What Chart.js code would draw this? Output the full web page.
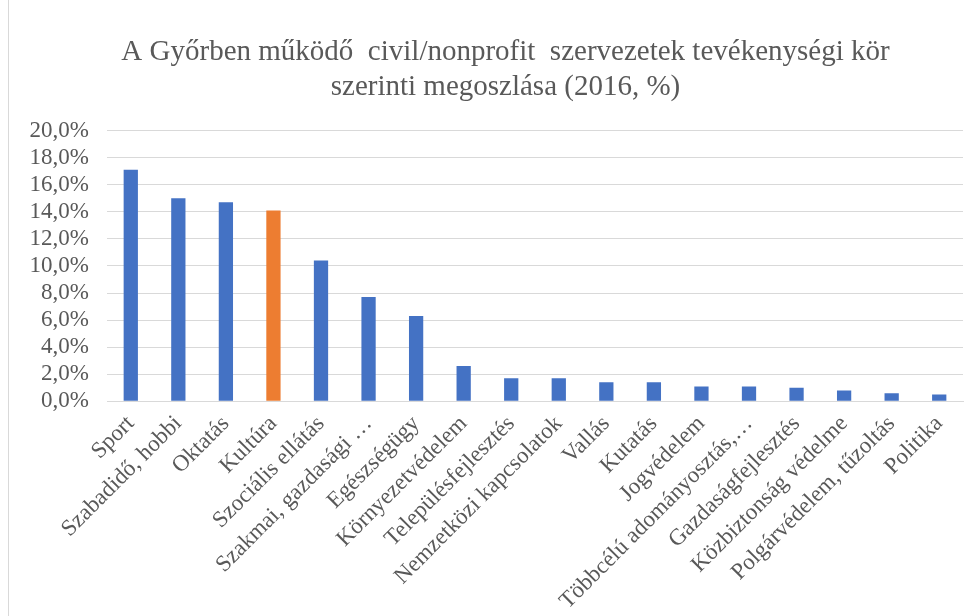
<!DOCTYPE html>
<html>
<head>
<meta charset="utf-8">
<script src="https://cdn.jsdelivr.net/npm/chart.js@4"></script>
<style>
  body { margin: 0; background: #fff; }
  #wrap { position: relative; width: 979px; height: 616px; }
  #edge { position: absolute; left: 8px; top: 0; width: 1px; height: 616px; background: #d9d9d9; }
</style>
</head>
<body>
<div id="wrap">
  <canvas id="myChart" width="979" height="616"></canvas>
  <div id="edge"></div>
</div>
<script>
const categories = [
  'Sport', 'Szabadidő, hobbi', 'Oktatás', 'Kultúra', 'Szociális ellátás',
  'Szakmai, gazdasági …', 'Egészségügy', 'Környezetvédelem', 'Településfejlesztés',
  'Nemzetközi kapcsolatok', 'Vallás', 'Kutatás', 'Jogvédelem',
  'Többcélú adományosztás,…', 'Gazdaságfejlesztés', 'Közbiztonság védelme',
  'Polgárvédelem, tűzoltás', 'Politika'
];
const shares = [17.1, 15.0, 14.7, 14.1, 10.4, 7.7, 6.3, 2.6, 1.7, 1.7, 1.4, 1.4, 1.1, 1.1, 1.0, 0.8, 0.6, 0.5];
const highlighted = 'Kultúra';
const titleLines = [
  'A Győrben működő  civil/nonprofit  szervezetek tevékenységi kör',
  'szerinti megoszlása (2016, %)'
];

const serif = "'Liberation Serif', 'DejaVu Serif', serif";
const grey = '#595959';

// the excel title sits a bit right of the canvas centre
const titleShift = {
  id: 'titleShift',
  afterLayout(chart) { chart.titleBlock.left += 48; }
};

const ctx = document.getElementById("myChart");
const myChart = new Chart(ctx, {
  type: 'bar',
  data: {
    labels: categories,
    datasets: [{
      data: shares,
      backgroundColor: categories.map(c => c === highlighted ? '#ED7D31' : '#4472C4'),
      barPercentage: 0.3,
      categoryPercentage: 1
    }]
  },
  options: {
    responsive: false,
    animation: false,
    layout: { padding: { left: 0, right: 16, top: 0, bottom: 0 } },
    plugins: {
      legend: { display: false },
      tooltip: { enabled: false },
      title: {
        display: true,
        text: titleLines,
        color: grey,
        font: { family: serif, size: 29, weight: 'normal', lineHeight: 1.2 },
        padding: { top: 35, bottom: 26 }
      }
    },
    scales: {
      y: {
        min: 0,
        max: 20,
        afterFit: s => { s.width = 107; },
        ticks: {
          stepSize: 2,
          autoSkip: false,
          color: grey,
          padding: 18,
          font: { family: serif, size: 23 },
          callback: v => v.toFixed(1).replace('.', ',') + '%'
        },
        grid: { color: '#d9d9d9', drawTicks: false },
        border: { display: false }
      },
      x: {
        ticks: {
          color: grey,
          minRotation: 45,
          maxRotation: 45,
          autoSkip: false,
          padding: 1,
          font: { family: serif, size: 23 }
        },
        grid: { display: false },
        border: { color: '#d9d9d9' }
      }
    }
  },
  plugins: [titleShift]
});
</script>
</body>
</html>
